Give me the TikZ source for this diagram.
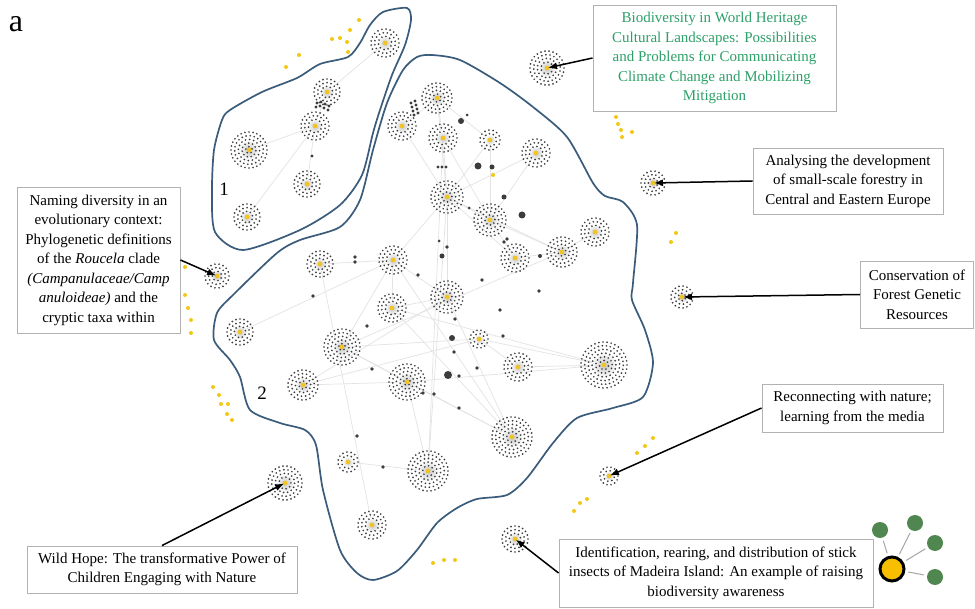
\documentclass[tikz,border=0pt]{standalone}
\usepackage{fontspec}
\setmainfont{Liberation Serif}
\usetikzlibrary{arrows.meta}
\definecolor{dotc}{RGB}{60,60,60}
\definecolor{ctr}{RGB}{240,196,40}
\definecolor{ydot}{RGB}{242,200,20}
\definecolor{blobc}{RGB}{58,92,122}
\definecolor{greentxt}{RGB}{45,160,105}
\definecolor{legg}{RGB}{80,135,80}
\definecolor{legy}{RGB}{248,190,0}
\tikzset{
  edge/.style={draw=gray!22, line width=0.7pt},
  blob/.style={draw=blobc, line width=1.7pt},
  lbl/.style={draw=gray!60, line width=0.9pt, fill=white, align=center, inner sep=2pt,
    font=\fontsize{15}{19.5}\selectfont},
  arr/.style={draw=black, line width=1.5pt, -{Latex[length=9pt,width=7pt]}, shorten >=1pt},
  dk/.style={fill=dotc},
  yd/.style={fill=ydot},
}
\newcommand\clusdots[2]{%
  \begin{scope}[shift={(#1)}]
    \shade[inner color=gray!45, outer color=white] (0,0) circle[radius={0.55*#2}];
    \pgfmathtruncatemacro\nrings{floor((#2-3)/3.7)}
    \foreach \k in {0,...,\nrings}{%
      \pgfmathsetmacro\crr{#2-\k*3.7}
      \pgfmathtruncatemacro\cdn{max(5,round(2*pi*\crr/4.1))}
      \foreach \j in {1,...,\cdn}{%
        \fill[dotc] ({\j*360/\cdn+\k*13}:\crr) circle[radius=0.95];
      }
    }
    \fill[ctr] (0,0) circle[radius=2.4];
  \end{scope}}
\begin{document}
\begin{tikzpicture}[x=1pt,y=-1pt]
\useasboundingbox (0,0) rectangle (975,609);
\fill[white] (0,0) rectangle (975,609);
% ---------- cluster positions ----------
\coordinate (g1a) at (385,43);
\coordinate (g1b) at (327,92);
\coordinate (g1c) at (315,126);
\coordinate (g1d) at (249,150);
\coordinate (g1e) at (307,184);
\coordinate (g1f) at (247,217);
\coordinate (a) at (437,98);
\coordinate (b) at (402,126);
\coordinate (c) at (443,138);
\coordinate (d) at (490,140);
\coordinate (f) at (536,153);
\coordinate (e) at (447,197);
\coordinate (g) at (490,220);
\coordinate (j) at (595,232);
\coordinate (i) at (562,252);
\coordinate (h) at (515,258);
\coordinate (k) at (393,260);
\coordinate (n) at (320,264);
\coordinate (l) at (447,297);
\coordinate (p) at (240,332);
\coordinate (m) at (392,308);
\coordinate (o) at (342,347);
\coordinate (r) at (479,339);
\coordinate (v) at (518,367);
\coordinate (t) at (604,365);
\coordinate (s) at (303,385);
\coordinate (q) at (407,382);
\coordinate (w) at (512,437);
\coordinate (xx) at (348,462);
\coordinate (u) at (428,471);
\coordinate (yy) at (372,525);
\coordinate (oBio) at (547,68);
\coordinate (oAna) at (653,183);
\coordinate (oCon) at (682,297);
\coordinate (oNam) at (217,276);
\coordinate (oWild) at (285,483);
\coordinate (oRec) at (609,476);
\coordinate (oIde) at (515,539);
% ---------- blobs ----------
\draw[blob] plot[smooth cycle, tension=0.45] coordinates {
 (230,110) (262,92) (297,78) (320,64) (348,57) (360,43) (370,25) (383,12) (407,8)
 (411,20) (405,45) (392,75) (380,110) (373,133) (362,175) (340,205) (300,230)
 (243,250) (215,232) (212,190) (214,150) (222,120)};
\draw[blob] plot[smooth cycle, tension=0.45] coordinates {
 (403,70) (417,57) (432,55) (460,60) (500,83) (533,107) (567,137) (593,183) (605,196)
 (623,202) (637,225) (633,283) (632,300) (645,330) (653,363) (643,397) (613,408)
 (577,418) (553,443) (527,478) (507,495) (477,499) (457,508) (437,523) (417,550)
 (397,571) (373,580) (357,573) (340,550) (323,490) (316,445) (305,430) (280,423)
 (250,410) (240,377) (230,360) (214,340) (217,313) (234,294) (277,253) (300,240)
 (340,227) (360,200) (373,150) (387,103)};
% ---------- edges ----------
\foreach \u/\v in {g1a/g1b, g1b/g1c, g1c/g1d, g1c/g1e, g1c/g1f,
  a/b, a/c, a/e, a/d, b/e, c/e, e/d, e/f, e/g, e/h, e/i, e/k, e/l, e/u, d/g, c/g,
  f/g, g/i, g/h, i/j, h/i, k/n, k/l, k/m, k/o, k/w, p/k, o/r, o/q, o/w, o/i,
  s/q, s/r, s/l, q/t, q/u, q/w, r/t, v/t, r/v, xx/u, n/yy, m/l, m/w, m/t, l/w, c/u}
  \draw[edge] (\u) -- (\v);
% ---------- small dark nodes ----------
\foreach \x/\y/\rad in {317/103/1.6, 321/102/1.6, 325/104/1.6, 329/106/1.6,
  316/107/1.6, 320/106/1.6, 324/108/1.6, 328/110/1.6, 312/156/1.6,
  411/103/1.7, 415/101/1.7, 412/107/1.7, 416/105/1.7, 413/111/1.7, 417/109/1.7,
  414/115/1.7, 418/113/1.7,
  467/115/1.5, 461/121/3, 438/167/1.6, 442/167/1.6, 446/167/1.6, 478/166/3.5,
  492/167/2.5, 504/197/2.5, 522/215/3.5, 469/208/1.5, 504/242/1.8, 507/239/1.8,
  439/241/1.5, 447/247/1.8, 442/256/2.5, 540/256/2, 418/275/1.8, 482/280/1.8,
  539/291/1.8, 355/257/1.8, 355/262/1.8, 313/296/1.8, 500/310/1.8, 455/319/1.8,
  367/326/1.8, 452/338/3, 503/336/1.8, 454/352/1.8, 372/369/1.8, 477/368/1.8,
  448/375/4, 459/376/1.8, 423/393/1.8, 434/394/1.8, 459/408/1.8, 357/436/1.8,
  383/467/1.8}
  \fill[dk] (\x,\y) circle[radius=\rad];
% ---------- clusters ----------
\foreach \nm/\rad in {g1a/14, g1b/13, g1c/14, g1d/18, g1e/13, g1f/13,
  a/15, b/14, c/14, d/10, f/14, e/16, g/16, j/14, i/15, h/14, k/14, n/13, l/16,
  p/13, m/14, o/18, r/9, v/14, t/23, s/15, q/18, w/20, xx/10, u/20, yy/14,
  oBio/17, oAna/12, oCon/11, oNam/12, oWild/17, oRec/9, oIde/13}
  {\clusdots{\nm}{\rad}}
\fill[ydot] (493,175) circle[radius=2];
% ---------- yellow isolated dots ----------
\foreach \x/\y in {286/67, 299/55, 332/39, 340/38, 347/42, 348/52, 350/30, 359/20,
  616/117, 618/124, 621/130, 622/137, 632/132, 676/233, 671/242,
  185/267, 185/295, 188/308, 191/320, 191/333,
  213/387, 219/395, 221/404, 228/404, 227/414, 232/420,
  637/453, 645/446, 653/438, 574/511, 580/503, 587/499,
  433/563, 444/560, 455/560}
  \fill[yd] (\x,\y) circle[radius=2];
% ---------- texts ----------
\node[font=\fontsize{32}{32}\selectfont, inner sep=0] (tA) at (16,24) {a};
\node[font=\fontsize{19}{19}\selectfont, inner sep=0] (t1) at (224,189) {1};
\node[font=\fontsize{19}{19}\selectfont, inner sep=0] (t2) at (262,393) {2};
% ---------- labels ----------
\node[lbl, text=greentxt, minimum width=243pt, minimum height=106pt] (LBio) at (714.5,58)
  {Biodiversity in World Heritage\\Cultural Landscapes: Possibilities\\and Problems for Communicating\\Climate Change and Mobilizing\\Mitigation};
\node[lbl, minimum width=190pt, minimum height=66pt] (LAna) at (848,181)
  {Analysing the development\\of small-scale forestry in\\Central and Eastern Europe};
\node[lbl, minimum width=113pt, minimum height=67pt] (LCon) at (917,294.5)
  {Conservation of\\Forest Genetic\\Resources};
\node[lbl, minimum width=181pt, minimum height=48pt] (LRec) at (852.5,408)
  {Reconnecting with nature;\\learning from the media};
\node[lbl, minimum width=314pt, minimum height=68pt] (LIde) at (716,573)
  {Identification, rearing, and distribution of stick\\insects of Madeira Island: An example of raising\\biodiversity awareness};
\node[lbl, minimum width=270pt, minimum height=47pt] (LWild) at (162,569.5)
  {Wild Hope: The transformative Power of\\Children Engaging with Nature};
\node[lbl, minimum width=163pt, minimum height=146pt] (LNam) at (98.5,260)
  {Naming diversity in an\\evolutionary context:\\Phylogenetic definitions\\of the \textit{Roucela} clade\\\textit{(Campanulaceae/Camp}\\\textit{anuloideae)} and the\\cryptic taxa within};
% ---------- arrows ----------
\draw[arr] (LBio.west) -- (oBio);
\draw[arr] (LAna.west) -- (oAna);
\draw[arr] (LCon.west) -- (oCon);
\draw[arr] (LRec.west) -- (oRec);
\draw[arr] (LIde.west) -- (oIde);
\draw[arr] (LWild.north) -- (oWild);
\draw[arr] (LNam.east) -- (oNam);
% ---------- legend icon ----------
\node[circle, fill=legy, draw=black, line width=3pt, minimum size=24pt, inner sep=0] (leg) at (892,569) {};
\foreach \nm/\x/\y in {lg1/880/530, lg2/915/523, lg3/935/543, lg4/935/577}{
  \node[circle, fill=legg, minimum size=16pt, inner sep=0] (\nm) at (\x,\y) {};
  \draw[gray!70, line width=1pt, shorten <=3pt, shorten >=3pt] (leg) -- (\nm);
}
\end{tikzpicture}
\end{document}
